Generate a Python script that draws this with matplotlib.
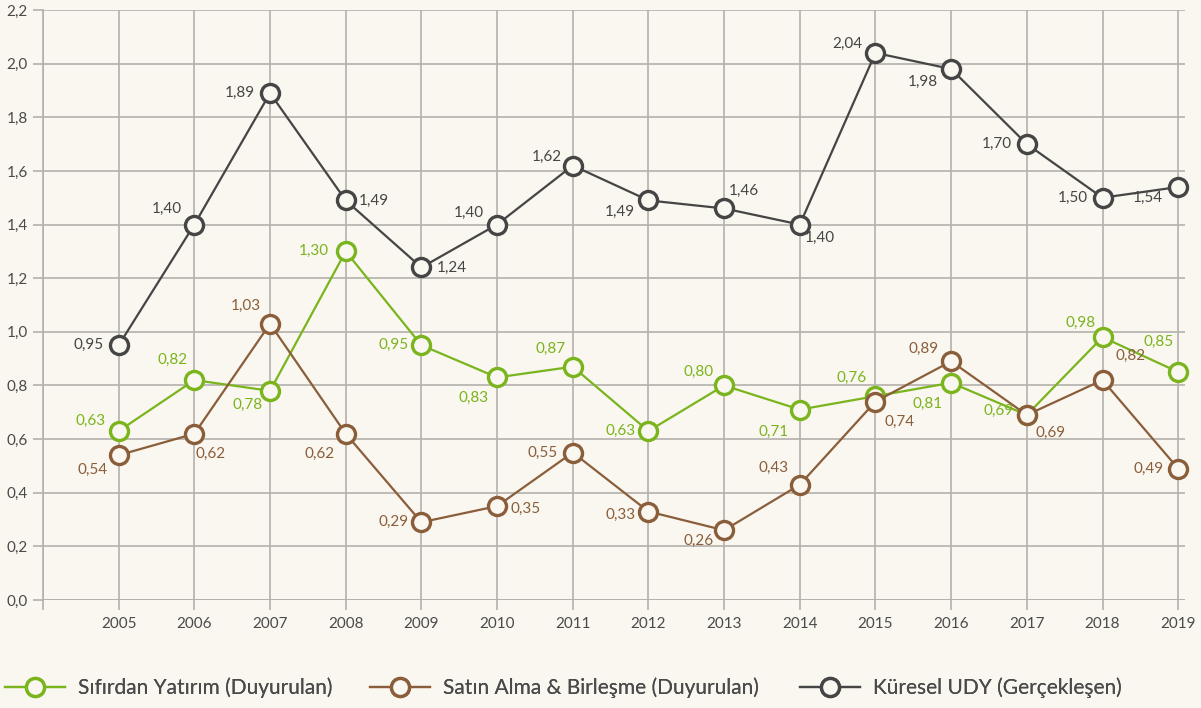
"""
UDY grafiği: Sıfırdan yatırım, satın alma & birleşme, küresel UDY (2005-2019)
"""
import matplotlib
matplotlib.use('Agg')
import matplotlib.pyplot as plt

plt.rcParams['font.family'] = ['Lato', 'DejaVu Sans']

years = list(range(2005, 2020))
sifirdan = [0.63, 0.82, 0.78, 1.30, 0.95, 0.83, 0.87, 0.63, 0.80, 0.71, 0.76, 0.81, 0.69, 0.98, 0.85]
satin_alma = [0.54, 0.62, 1.03, 0.62, 0.29, 0.35, 0.55, 0.33, 0.26, 0.43, 0.74, 0.89, 0.69, 0.82, 0.49]
kuresel = [0.95, 1.40, 1.89, 1.49, 1.24, 1.40, 1.62, 1.49, 1.46, 1.40, 2.04, 1.98, 1.70, 1.50, 1.54]

series_names = ['Sıfırdan Yatırım (Duyurulan)', 'Satın Alma & Birleşme (Duyurulan)',
                'Küresel UDY (Gerçekleşen)']

BG = '#FAF6F0'
GRID = '#B4B1AD'
TEXT = '#4A4A4A'
colors = ['#7AB51D', '#8A5E3A', '#454545']

# etiket konumları (piksel ofset)
off_green = [(-28, 10), (-22, 20), (-22, -14), (-32, 0), (-28, 0), (-24, -20), (-22, 18), (-28, 0),
             (-26, 14), (-26, -22), (-24, 18), (-24, -21), (-28, 4), (-22, 14), (-20, 30)]
off_brown = [(-26, -15), (16, -20), (-24, 18), (-26, -20), (-28, 0), (28, -3), (-30, 0), (-28, -3),
             (-26, -11), (-26, 17), (24, -20), (-28, 12), (24, -18), (28, 24), (-30, 0)]
off_black = [(-30, 0), (-28, 16), (-30, 0), (28, 0), (30, 0), (-28, 12), (-26, 9), (-29, -11),
             (20, 18), (20, -13), (-28, 9), (-28, -13), (-30, 0), (-30, 0), (-30, -11)]

fig = plt.figure(figsize=(12.01, 7.08), dpi=100, facecolor=BG)
ax = fig.add_axes([43 / 1201, 1 - 600 / 708, (1185 - 43) / 1201, 590 / 708])
ax.set_facecolor(BG)

ax.set_xlim(2004, 2019.09)
ax.set_ylim(0, 2.2)
ax.set_xticks(range(2004, 2020))
ax.set_xticklabels([''] + [str(y) for y in years])
ax.set_yticks([i * 0.2 for i in range(12)])
ax.set_yticklabels([f'{i * 0.2:.1f}'.replace('.', ',') for i in range(12)])
ax.tick_params(axis='both', direction='out', length=7, width=1.2, color=GRID,
               labelsize=11, labelcolor=TEXT)
ax.tick_params(axis='y', pad=4)
ax.tick_params(axis='x', pad=5)

ax.grid(True, color=GRID, linewidth=1.2)
for s in ['top', 'right', 'bottom']:
    ax.spines[s].set_visible(False)
ax.spines['left'].set_color(GRID)
ax.spines['left'].set_linewidth(1.2)
ax.axhline(0, color=GRID, linewidth=1.2, zorder=1)

data = [sifirdan, satin_alma, kuresel]
offsets = [off_green, off_brown, off_black]
handles = []
for vals, offs, c, name in zip(data, offsets, colors, series_names):
    line, = ax.plot(years, vals, color=c, linewidth=1.6, marker='o', markersize=13,
                    markerfacecolor=BG, markeredgecolor=c, markeredgewidth=2.4,
                    label=name, zorder=3, clip_on=False)
    handles.append(line)
    for x, v, (dx, dy) in zip(years, vals, offs):
        ax.annotate(f'{v:.2f}'.replace('.', ','), (x, v), xytext=(dx, dy),
                    textcoords='offset pixels', ha='center', va='center',
                    fontsize=11, color=c, zorder=4)

# lejant: her öğe ayrı konumda
legend_x = [5, 370, 800]
for h, lx in zip(handles, legend_x):
    leg = fig.legend([h], [h.get_label()], loc='center left',
                     bbox_to_anchor=(lx / 1201, (708 - 688) / 708), frameon=False,
                     fontsize=15, handlelength=2.9, handletextpad=0.6,
                     borderpad=0, borderaxespad=0, labelcolor=TEXT)
    fig.add_artist(leg)

plt.savefig('out.png', dpi=100, facecolor=BG)
